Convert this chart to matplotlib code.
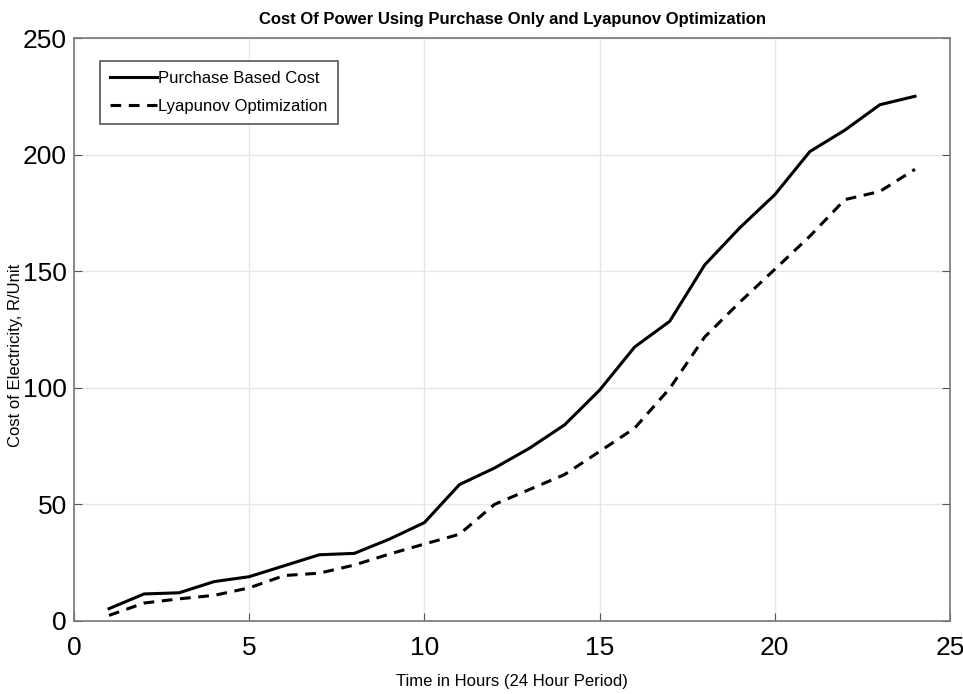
import matplotlib
matplotlib.use("Agg")
import matplotlib.pyplot as plt

hours = list(range(1, 25))
purchase_cost = [5.3, 11.6, 12.1, 16.9, 19.0, 23.7, 28.4, 29.0, 35.1, 42.2,
                 58.5, 65.6, 74.1, 84.1, 99.0, 117.5, 128.5, 152.7, 168.6, 182.8,
                 201.3, 210.5, 221.4, 225.0]
lyapunov_cost = [2.4, 7.7, 9.5, 11.0, 14.2, 19.5, 20.5, 24.0, 28.7, 33.0,
                 37.2, 50.0, 56.4, 62.8, 72.7, 82.7, 99.7, 121.8, 136.7, 150.8,
                 165.0, 180.7, 184.2, 193.7]

plt.rcParams['font.family'] = ['Liberation Sans', 'DejaVu Sans']

fig = plt.figure(figsize=(9.63, 6.94), dpi=100)
ax = fig.add_axes([74 / 963, 1 - 621 / 694, (950 - 74) / 963, (621 - 38) / 694])

ax.plot(hours, purchase_cost, color='black', linewidth=2.2, label='Purchase Based Cost')
ax.plot(hours, lyapunov_cost, color='black', linewidth=2.2, linestyle=(0, (3.5, 2.5)),
        label='Lyapunov Optimization')

ax.set_xlim(0, 25)
ax.set_ylim(0, 250)
ax.set_xticks([0, 5, 10, 15, 20, 25])
ax.set_yticks([0, 50, 100, 150, 200, 250])
ax.grid(True, color='#e6e6e6', linewidth=1)
ax.set_axisbelow(True)
ax.tick_params(direction='in', labelsize=19, length=6, color='#555555', pad=5,
               top=False, right=True)
ax.tick_params(axis='x', pad=11)
for s in ax.spines.values():
    s.set_color('#777777')
    s.set_linewidth(1.2)

ax.set_title('Cost Of Power Using Purchase Only and Lyapunov Optimization',
             fontsize=12, fontweight='bold', pad=10)
ax.set_xlabel('Time in Hours (24 Hour Period)', fontsize=12, labelpad=10)
ax.set_ylabel('Cost of Electricity, R/Unit', fontsize=12, labelpad=6)
ax.yaxis.set_label_coords(-0.058, 0.455)

leg = ax.legend(loc='upper left', bbox_to_anchor=(0.02, 0.975), fontsize=12,
                fancybox=False, framealpha=1, handlelength=2.8, handletextpad=0.1,
                borderpad=0.6, labelspacing=0.8)
leg.get_frame().set_edgecolor('#555555')
leg.get_frame().set_linewidth(1.2)

fig.savefig('out.png', dpi=100)
